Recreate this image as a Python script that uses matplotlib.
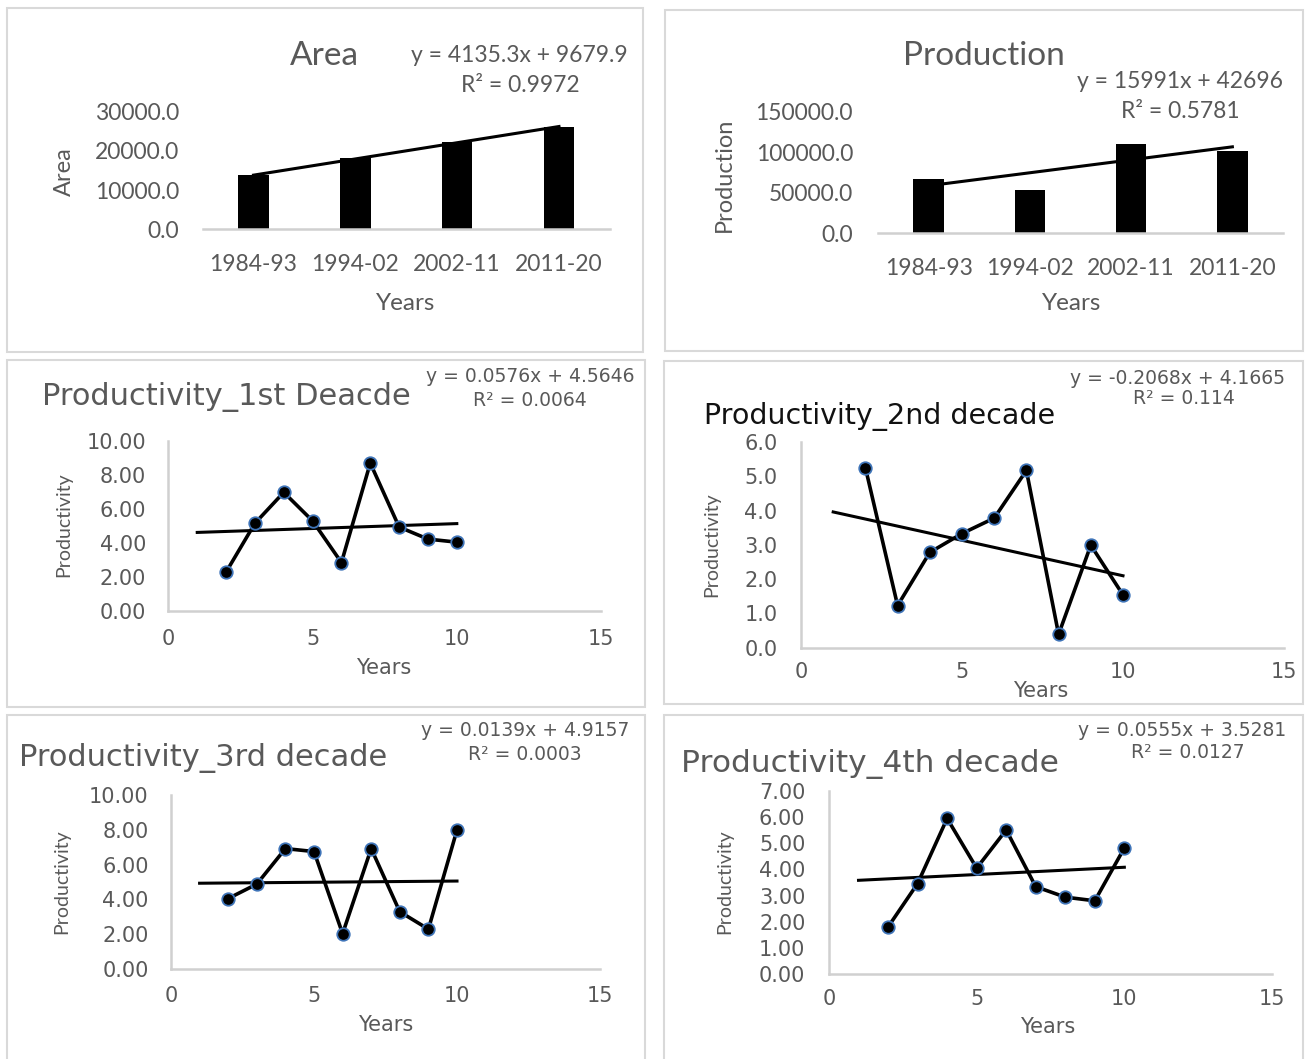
import matplotlib
matplotlib.use("Agg")
import matplotlib.pyplot as plt
from matplotlib.patches import Rectangle

W, H = 1306, 1059
DPI = 100

# Decade totals
decades = ["1984-93", "1994-02", "2002-11", "2011-20"]
area = [13850, 18300, 22250, 26000]
production = [67000, 53500, 110000, 101500]

# Yearly productivity within each decade
years = [2, 3, 4, 5, 6, 7, 8, 9, 10]
prod_1st = [2.29, 5.16, 6.98, 5.30, 2.85, 8.70, 4.94, 4.23, 4.05]
prod_2nd = [5.25, 1.23, 2.78, 3.33, 3.78, 5.17, 0.39, 2.99, 1.54]
prod_3rd = [4.05, 4.88, 6.92, 6.75, 2.03, 6.92, 3.29, 2.29, 7.99]
prod_4th = [1.80, 3.46, 5.95, 4.05, 5.51, 3.34, 2.94, 2.80, 4.82]

# Linear trend lines: slope, intercept, R²
fit_area = (4135.3, 9679.9, 0.9972)
fit_production = (15991, 42696, 0.5781)
fit_1st = (0.0576, 4.5646, 0.0064)
fit_2nd = (-0.2068, 4.1665, 0.114)
fit_3rd = (0.0139, 4.9157, 0.0003)
fit_4th = (0.0555, 3.5281, 0.0127)

GREY = "#595959"
AXIS = "#D0D0D0"
TOP_FONT = "Lato"
LOW_FONT = "DejaVu Sans"

fig = plt.figure(figsize=(W / DPI, H / DPI), dpi=DPI)
fig.patch.set_facecolor("white")


def fx(x):
    return x / W


def fy(y):
    return 1 - y / H


def place(l, t, r, b):
    return fig.add_axes([fx(l), fy(b), (r - l) / W, (b - t) / H])


def frame(l, t, r, b):
    fig.patches.append(Rectangle((fx(l), fy(b)), (r - l) / W, (b - t) / H,
                                 transform=fig.transFigure, fill=False,
                                 edgecolor="#D9D9D9", lw=1.5))


def label(x, y, s, size, family, color=GREY, rot=0, ha="center", va="center"):
    fig.text(fx(x), fy(y), s, ha=ha, va=va, fontsize=size,
             family=family, color=color, rotation=rot)


def eq_text(fit):
    s, i, r2 = fit
    sign = "+" if i >= 0 else "-"
    return f"y = {s:g}x {sign} {abs(i):g}", f"R² = {r2:g}"


# panel frames
for box in [(7, 8, 643, 352), (665, 10, 1303, 351), (7, 360, 645, 707),
            (664, 361, 1303, 704), (7, 715, 645, 1062), (664, 715, 1303, 1062)]:
    frame(*box)


def bar_panel(ax, values, fit, ymax, yticks, ypad):
    pos = list(range(1, len(values) + 1))
    ax.bar(pos, values, width=0.3, color="black", zorder=2)
    s, i, _ = fit
    ax.plot([pos[0], pos[-1]], [s * pos[0] + i, s * pos[-1] + i],
            color="black", lw=2.2, zorder=3)
    ax.set_xlim(0.5, len(values) + 0.5)
    ax.set_ylim(0, ymax)
    ax.set_xticks(pos)
    ax.set_xticklabels(decades)
    ax.set_yticks(yticks)
    ax.set_yticklabels([f"{v:.1f}" for v in yticks])
    for side in ["left", "right", "top"]:
        ax.spines[side].set_visible(False)
    ax.spines["bottom"].set_color(AXIS)
    ax.spines["bottom"].set_linewidth(1.8)
    ax.tick_params(axis="both", length=0, labelsize=16.5, colors=GREY)
    ax.tick_params(axis="y", pad=ypad)
    ax.tick_params(axis="x", pad=18)
    for t in ax.get_xticklabels() + ax.get_yticklabels():
        t.set_family(TOP_FONT)
    ax.patch.set_alpha(0)


def line_panel(ax, values, fit, ymax, ystep, fmt, ypad, xpad):
    s, i, _ = fit
    ax.plot([1, 10], [s * 1 + i, s * 10 + i], color="black", lw=2.2, zorder=2)
    ax.plot(years, values, color="black", lw=2.6, marker="o", ms=9,
            mfc="black", mec="#3F74B8", mew=1.3, zorder=3)
    ax.set_xlim(0, 15)
    ax.set_ylim(0, ymax)
    ax.set_xticks([0, 5, 10, 15])
    yt = [k * ystep for k in range(int(round(ymax / ystep)) + 1)]
    ax.set_yticks(yt)
    ax.set_yticklabels([fmt.format(v) for v in yt])
    for side in ["right", "top"]:
        ax.spines[side].set_visible(False)
    for side in ["left", "bottom"]:
        ax.spines[side].set_color(AXIS)
        ax.spines[side].set_linewidth(1.8)
    ax.tick_params(axis="both", length=0, labelsize=15, colors=GREY)
    ax.tick_params(axis="y", pad=ypad)
    ax.tick_params(axis="x", pad=xpad)
    for t in ax.get_xticklabels() + ax.get_yticklabels():
        t.set_family(LOW_FONT)
    ax.patch.set_alpha(0)


# Area
ax1 = place(202.6, 111.7, 609.9, 229.3)
bar_panel(ax1, area, fit_area, 30000, [0, 10000, 20000, 30000], 17)
label(324, 56, "Area", 24, TOP_FONT)
e, r = eq_text(fit_area)
label(519, 56, e, 16.5, TOP_FONT)
label(520, 86, r, 16.5, TOP_FONT)
label(64, 172, "Area", 17, TOP_FONT, rot=90)
label(406, 303, "Years", 17.5, TOP_FONT)

# Production
ax2 = place(878, 111.7, 1283, 233.3)
bar_panel(ax2, production, fit_production, 150000, [0, 50000, 100000, 150000], 18)
label(984, 56, "Production", 24, TOP_FONT)
e, r = eq_text(fit_production)
label(1180, 82, e, 16.5, TOP_FONT)
label(1180, 111, r, 16.5, TOP_FONT)
label(724, 175, "Production", 17, TOP_FONT, rot=90)
label(1072, 303, "Years", 17.5, TOP_FONT)

# Productivity, 1st decade
ax3 = place(168.4, 441, 601, 611)
line_panel(ax3, prod_1st, fit_1st, 10, 2, "{:.2f}", 16, 13)
label(42, 397, "Productivity_1st Deacde", 22, LOW_FONT, ha="left")
e, r = eq_text(fit_1st)
label(530, 377, e, 13.5, LOW_FONT)
label(530, 400, r, 13.5, LOW_FONT)
label(64, 525, "Productivity", 14, TOP_FONT, rot=90)
label(384, 668, "Years", 15, LOW_FONT)

# Productivity, 2nd decade
ax4 = place(801, 442, 1284, 647.7)
line_panel(ax4, prod_2nd, fit_2nd, 6, 1, "{:.1f}", 17, 10)
label(704, 424, "Productivity_2nd decade", 20.5, LOW_FONT, color="#111111",
      ha="left", va="baseline")
e, r = eq_text(fit_2nd)
label(1177, 378, e, 13.5, LOW_FONT)
label(1184, 398, r, 13.5, LOW_FONT)
label(712, 545, "Productivity", 14, TOP_FONT, rot=90)
label(1041, 691, "Years", 15, LOW_FONT)

# Productivity, 3rd decade
ax5 = place(171, 795, 600, 969)
line_panel(ax5, prod_3rd, fit_3rd, 10, 2, "{:.2f}", 16, 12)
label(19, 758, "Productivity_3rd decade", 22, LOW_FONT, ha="left")
e, r = eq_text(fit_3rd)
label(525, 731, e, 13.5, LOW_FONT)
label(525, 755, r, 13.5, LOW_FONT)
label(62, 882, "Productivity", 14, TOP_FONT, rot=90)
label(386, 1025, "Years", 15, LOW_FONT)

# Productivity, 4th decade
ax6 = place(829, 791, 1272, 974)
line_panel(ax6, prod_4th, fit_4th, 7, 1, "{:.2f}", 17, 11)
label(681, 764, "Productivity_4th decade", 22.5, LOW_FONT, ha="left")
e, r = eq_text(fit_4th)
label(1182, 731, e, 13.5, LOW_FONT)
label(1188, 753, r, 13.5, LOW_FONT)
label(725, 882, "Productivity", 14, TOP_FONT, rot=90)
label(1048, 1027, "Years", 15, LOW_FONT)

fig.savefig("out.png", dpi=DPI, facecolor="white")
